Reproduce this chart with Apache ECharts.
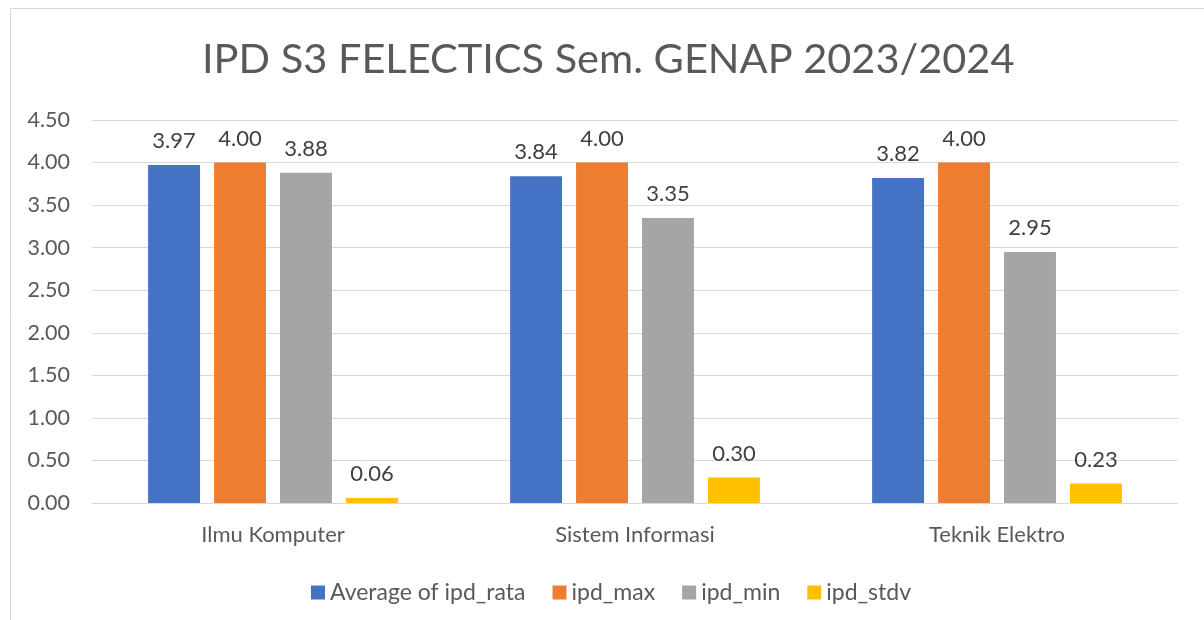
<!DOCTYPE html>
<html><head><meta charset="utf-8">
<script src="https://cdn.jsdelivr.net/npm/echarts@6/dist/echarts.min.js"></script>
<style>html,body{margin:0;padding:0;background:#fff}#c{width:1204px;height:620px}</style>
</head><body><div id="c"></div>
<script>
const categories = ['Ilmu Komputer', 'Sistem Informasi', 'Teknik Elektro'];
const seriesNames = ['Average of ipd_rata', 'ipd_max', 'ipd_min', 'ipd_stdv'];
const ipdRata = [3.97, 3.84, 3.82];
const ipdMax = [4.00, 4.00, 4.00];
const ipdMin = [3.88, 3.35, 2.95];
const ipdStdv = [0.06, 0.30, 0.23];
const colors = ['#4472C4', '#ED7D31', '#A5A5A5', '#FFC000'];
const values = [ipdRata, ipdMax, ipdMin, ipdStdv];
const FONT = 'Lato';
const chart = echarts.init(document.getElementById('c'), null, {renderer: 'canvas'});
chart.setOption({
  animation: false,
  color: colors,
  graphic: [{type: 'rect', shape: {x: 10.5, y: 8.5, width: 1300, height: 700}, style: {fill: 'none', stroke: '#d9d9d9', lineWidth: 1}, silent: true}],
  title: {text: 'IPD S3 FELECTICS Sem. GENAP 2023/2024', left: 197, top: 34,
    textStyle: {fontFamily: FONT, fontSize: 41.5, fontWeight: 'normal', color: '#595959'}},
  legend: {top: 576, left: 306, itemWidth: 14, itemHeight: 14, itemGap: 27, icon: 'rect',
    textStyle: {fontFamily: FONT, fontSize: 23, color: '#595959'}, data: seriesNames},
  grid: {left: 92, right: 26, top: 120, bottom: 117},
  xAxis: {type: 'category', data: categories,
    axisLine: {lineStyle: {color: '#d9d9d9'}}, axisTick: {show: false},
    axisLabel: {fontFamily: FONT, fontSize: 22, color: '#595959', margin: 21}},
  yAxis: {type: 'value', min: 0, max: 4.5, interval: 0.5,
    axisLine: {show: false}, axisTick: {show: false},
    splitLine: {lineStyle: {color: '#d9d9d9'}},
    axisLabel: {fontFamily: FONT, fontSize: 21.5, color: '#595959', margin: 22, formatter: v => v.toFixed(2)}},
  series: seriesNames.map((n, i) => ({
    name: n, type: 'bar', data: values[i], barGap: '27%', barCategoryGap: '31%',
    label: {show: true, position: 'top', distance: 13, fontFamily: FONT, fontSize: 22, color: '#404040',
      formatter: p => p.value.toFixed(2)}
  }))
});
</script></body></html>
